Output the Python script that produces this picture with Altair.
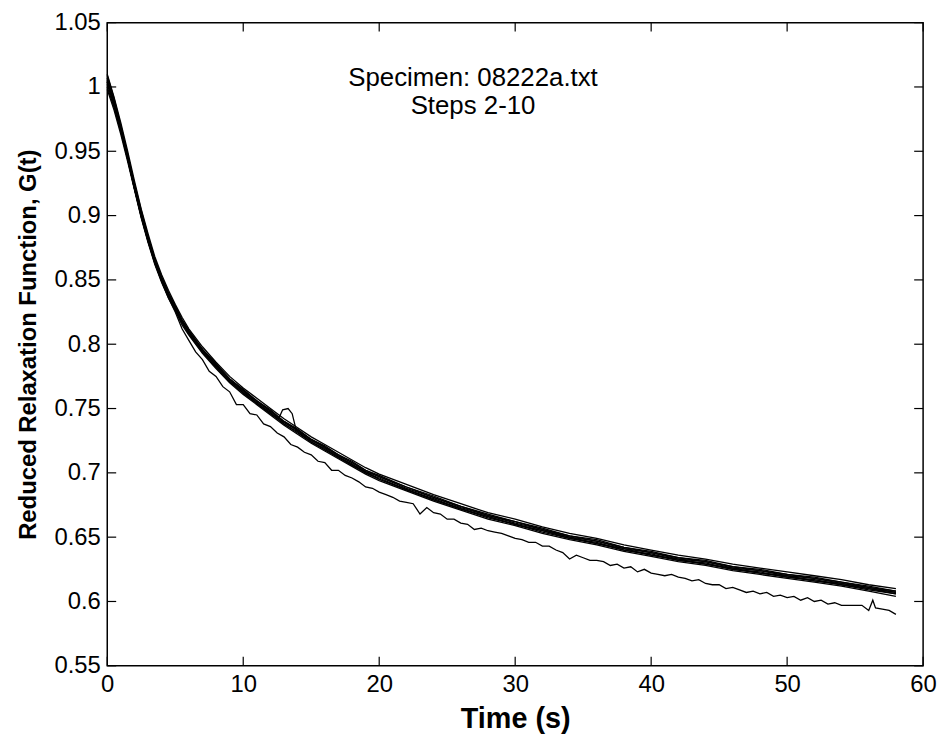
import altair as alt
import pandas as pd

# ---------------- data ----------------
T_BUNDLE = [0, 0.5, 1, 1.5, 2, 2.5, 3, 3.5, 4, 4.5, 5, 5.5, 6, 7, 8, 9, 10, 11, 12, 13,
            14, 15, 16, 17, 18, 19, 20, 22, 24, 26, 28, 30, 32, 34, 36, 38, 40, 42, 44,
            46, 48, 50, 52, 54, 56, 58]

STEP_A = [1.010, .992, .972, .950, .927, .905, .886, .868, .854, .842, .831, .821, .812,
          .798, .786, .775, .766, .758, .750, .742, .735, .728, .722, .716, .710, .704,
          .699, .691, .683, .676, .669, .664, .658, .653, .649, .644, .640, .636, .633,
          .629, .626, .623, .620, .617, .613, .610]
STEP_B = [1.002, .986, .967, .947, .925, .904, .884, .866, .852, .840, .830, .819, .811,
          .796, .785, .773, .765, .756, .749, .740, .734, .726, .721, .714, .709, .702,
          .698, .689, .682, .674, .668, .662, .657, .651, .648, .642, .639, .634, .632,
          .627, .625, .621, .619, .615, .612, .608]
STEP_C = [1.007, .989, .968, .947, .924, .902, .883, .866, .852, .840, .829, .819, .810,
          .796, .784, .773, .764, .756, .748, .740, .733, .726, .720, .714, .708, .702,
          .697, .689, .681, .674, .667, .662, .656, .651, .647, .642, .638, .634, .631,
          .627, .624, .621, .618, .615, .611, .608]
STEP_D = [1.004, .987, .967, .945, .922, .900, .881, .864, .850, .838, .828, .817, .809,
          .795, .783, .772, .763, .754, .747, .738, .732, .724, .719, .712, .707, .700,
          .696, .687, .680, .672, .666, .660, .655, .649, .646, .640, .637, .632, .630,
          .625, .623, .619, .617, .613, .610, .606]
STEP_E = [1.000, .984, .965, .944, .921, .899, .880, .863, .849, .837, .827, .817, .808,
          .794, .782, .771, .762, .754, .746, .738, .731, .724, .718, .712, .706, .700,
          .695, .687, .679, .672, .665, .660, .654, .649, .645, .640, .636, .632, .629,
          .625, .622, .619, .616, .613, .609, .606]
STEP_F = [0.998, .982, .963, .942, .920, .898, .879, .862, .848, .836, .826, .815, .807,
          .793, .781, .770, .761, .753, .745, .737, .730, .723, .717, .711, .705, .699,
          .694, .686, .678, .671, .664, .659, .653, .648, .644, .639, .635, .631, .628,
          .624, .621, .618, .615, .612, .608, .604]
STEP_H = [1.009, .991, .970, .948, .924, .902, .883, .865, .851, .839, .829, .818, .810,
          .796, .784, .773, .764, .755, .748, .739, .733, .725, .720, .713, .708, .701,
          .697, .688, .681, .673, .667, .661, .656, .650, .647, .641, .638, .633, .631,
          .626, .624, .620, .618, .614, .611, .607]

T_BUMP = [0, 0.5, 1, 1.5, 2, 2.5, 3, 3.5, 4, 4.5, 5, 5.5, 6, 7, 8, 9, 10, 11, 12, 12.6,
          12.9, 13.3, 13.6, 13.9, 14, 15, 16, 17, 18, 19, 20, 22, 24, 26, 28, 30, 32, 34,
          36, 38, 40, 42, 44, 46, 48, 50, 52, 54, 56, 58]
STEP_G = [1.005, .987, .966, .944, .921, .900, .881, .864, .850, .838, .827, .817, .808,
          .794, .782, .771, .762, .754, .746, .742, .749, .750, .746, .733, .732, .724,
          .718, .712, .706, .701, .695, .687, .679, .672, .666, .660, .655, .650, .645,
          .641, .636, .633, .629, .626, .622, .620, .616, .614, .610, .607]

T_LOW = [0, 0.5, 1, 1.5, 2, 2.5, 3, 3.5, 4, 4.5, 5, 5.5, 6, 6.5, 7, 7.5, 8, 8.5, 9, 9.5,
         10, 10.5, 11, 11.5, 12, 12.5, 13, 13.5, 14, 14.5, 15, 15.5, 16, 16.5, 17, 17.5,
         18, 18.5, 19, 19.5, 20, 20.5, 21, 21.5, 22, 22.5, 23, 23.5, 24, 24.5, 25, 25.5,
         26, 26.5, 27, 27.5, 28, 28.5, 29, 29.5, 30, 30.5, 31, 31.5, 32, 32.5, 33, 33.5,
         34, 34.5, 35, 35.5, 36, 36.5, 37, 37.5, 38, 38.5, 39, 39.5, 40, 40.5, 41, 41.5,
         42, 42.5, 43, 43.5, 44, 44.5, 45, 45.5, 46, 46.5, 47, 47.5, 48, 48.5, 49, 49.5,
         50, 50.5, 51, 51.5, 52, 52.5, 53, 53.5, 54, 54.5, 55, 55.5, 56, 56.3, 56.5, 57,
         57.5, 58]
STEP_LOW = [1.004, .986, .966, .944, .921, .899, .880, .863, .849, .836, .825, .812, .803,
            .794, .788, .779, .775, .767, .763, .753, .753, .746, .745, .738, .736, .731,
            .728, .722, .720, .716, .714, .709, .708, .702, .702, .698, .696, .693, .689,
            .688, .685, .683, .681, .678, .677, .676, .668, .673, .669, .668, .664, .664,
            .661, .660, .656, .657, .655, .654, .653, .651, .649, .648, .646, .646, .643,
            .643, .640, .638, .633, .636, .634, .632, .632, .631, .628, .629, .626, .627,
            .623, .625, .622, .621, .620, .621, .619, .618, .616, .617, .614, .613, .613,
            .610, .611, .609, .607, .608, .606, .607, .604, .605, .603, .604, .601, .603,
            .600, .601, .598, .599, .597, .597, .597, .597, .593, .601, .595, .594, .593,
            .590]

X_TICKS = [0, 10, 20, 30, 40, 50, 60]
Y_TICKS = [0.55, 0.6, 0.65, 0.7, 0.75, 0.8, 0.85, 0.9, 0.95, 1.0, 1.05]

ANNOT_X = [26.9, 26.9]
ANNOT_Y = [1.007, 0.9855]
ANNOT_TEXT = ["Specimen: 08222a.txt", "Steps 2-10"]

X_TITLE = "Time (s)"
Y_TITLE = "Reduced Relaxation Function, G(t)"

# ---------------- build tables ----------------
series = [("A", T_BUNDLE, STEP_A), ("B", T_BUNDLE, STEP_B), ("C", T_BUNDLE, STEP_C),
          ("D", T_BUNDLE, STEP_D), ("E", T_BUNDLE, STEP_E), ("F", T_BUNDLE, STEP_F),
          ("H", T_BUNDLE, STEP_H), ("G", T_BUMP, STEP_G), ("L", T_LOW, STEP_LOW)]
rows = []
for name, ts, gs in series:
    for i, (t, g) in enumerate(zip(ts, gs)):
        rows.append({"t": t, "g": g, "s": name, "o": i})
df = pd.DataFrame(rows)
xt = pd.DataFrame({"t": X_TICKS})
yt = pd.DataFrame({"g": Y_TICKS})
ann = pd.DataFrame({"t": ANNOT_X, "g": ANNOT_Y, "text": ANNOT_TEXT})

W, H = 822, 648
FONT = "Liberation Sans, Arial, Helvetica, sans-serif"
xs = alt.Scale(domain=[0, 60], nice=False, zero=False)
ys = alt.Scale(domain=[0.55, 1.05], nice=False, zero=False)

x_axis = alt.Axis(values=X_TICKS, ticks=False, domain=False, grid=False,
                  labelFont=FONT, labelFontSize=24, labelColor="black",
                  labelPadding=7, titleFont=FONT, titleFontSize=29,
                  titleFontWeight="bold", titleColor="black", titlePadding=8,
                  labelFlush=False)
y_axis = alt.Axis(values=Y_TICKS, format="~g", ticks=False, domain=False,
                  grid=False, labelFont=FONT, labelFontSize=24,
                  labelColor="black", labelPadding=7, titleFont=FONT,
                  titleFontSize=24, titleFontWeight="bold", titleColor="black",
                  titlePadding=14, labelFlush=False)

X = alt.X("t:Q", scale=xs, title=X_TITLE, axis=x_axis)
Y = alt.Y("g:Q", scale=ys, title=Y_TITLE, axis=y_axis)

lines = alt.Chart(df).mark_line(color="black", strokeWidth=1.3).encode(
    x=X, y=Y, detail="s:N", order="o:Q")

TL = 9
xtick_b = alt.Chart(xt).mark_rule(color="black", strokeWidth=1.2).encode(
    x=X, y=alt.value(H), y2=alt.value(H - TL))
xtick_t = alt.Chart(xt).mark_rule(color="black", strokeWidth=1.2).encode(
    x=X, y=alt.value(0), y2=alt.value(TL))
ytick_l = alt.Chart(yt).mark_rule(color="black", strokeWidth=1.2).encode(
    y=Y, x=alt.value(0), x2=alt.value(TL))
ytick_r = alt.Chart(yt).mark_rule(color="black", strokeWidth=1.2).encode(
    y=Y, x=alt.value(W), x2=alt.value(W - TL))

text = alt.Chart(ann).mark_text(font=FONT, fontSize=26, color="black",
                                align="center", baseline="middle").encode(
    x=X, y=Y, text="text:N")

chart = alt.layer(lines, xtick_b, xtick_t, ytick_l, ytick_r, text).properties(
    width=W, height=H,
    autosize=alt.AutoSizeParams(type="none"),
    padding={"left": 100, "top": 12, "right": 14, "bottom": 70},
    background="white",
).configure_view(stroke="black", strokeWidth=1.5)

chart.save("out.html", embed_options={"renderer": "svg", "actions": False})
